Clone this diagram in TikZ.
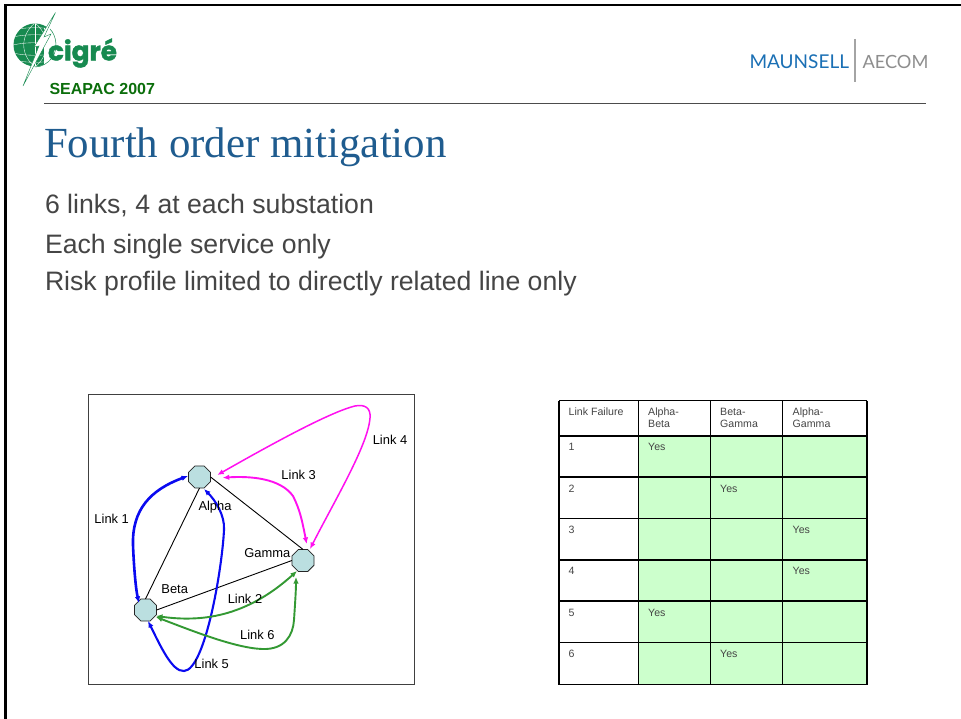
\documentclass[tikz,border=0pt]{standalone}
\usepackage{fontspec}
\setmainfont{Liberation Sans}
\newfontfamily\serifface{Liberation Serif}
\newfontfamily\logoface[BoldFeatures={FakeBold=1.6}]{Poppins}
\newfontfamily\brandface{Lato}
\usetikzlibrary{arrows.meta,shapes.geometric}
\definecolor{titleblue}{HTML}{1F5C8F}
\definecolor{bodygrey}{HTML}{454545}
\definecolor{cellgreen}{HTML}{CCFFCC}
\definecolor{octfill}{HTML}{BBDFE0}
\definecolor{linkblue}{HTML}{0A0AF0}
\definecolor{linkmag}{HTML}{FF10F0}
\definecolor{linkgreen}{HTML}{339933}
\definecolor{logogreen}{HTML}{178A50}
\definecolor{seagreen}{HTML}{0B6E0B}
\definecolor{brandblue}{HTML}{1B70B5}
\definecolor{brandgrey}{HTML}{8E8E8E}
\tikzset{
  x=1pt,y=-1pt,
  txt/.style={inner sep=0pt,outer sep=0pt,anchor=west,align=left},
  bodytxt/.style={txt,text=bodygrey,font=\fontsize{26.65}{28}\selectfont},
  difflabel/.style={inner sep=0pt,font=\fontsize{12.9}{14}\selectfont,text=black},
  cell/.style={inner sep=0pt,anchor=north west,align=left,text=bodygrey,font=\fontsize{10.6}{12.6}\selectfont},
  oct/.style={regular polygon,regular polygon sides=8,draw=black!85,line width=0.8pt,fill=octfill,minimum size=24pt,inner sep=0pt,outer sep=0pt},
  edge/.style={black,line width=0.9pt},
  link/.style={line width=#1,{Latex[length=6.5pt,width=5.5pt]}-{Latex[length=6.5pt,width=5.5pt]}},
  link/.default=1.6pt,
  grid/.style={black,line width=1.2pt}
}
\begin{document}
\begin{tikzpicture}
\useasboundingbox (0,0) rectangle (961,719);
\fill[white] (0,0) rectangle (961,719);
% slide frame
\draw[black,line width=2.6pt] (5.5,719) -- (5.5,5) -- (961,5);
% logo
\fill[logogreen] (35,45) circle (21.5);
\begin{scope}
\clip (35,45) circle (21.5);
\foreach \r in {0,8,15}{\draw[white,line width=0.35pt] (13,45-\r) .. controls (25,42-\r) and (45,42-\r) .. (57,45-\r);}
\foreach \r in {8,15}{\draw[white,line width=0.35pt] (13,45+\r) .. controls (25,48+\r) and (45,48+\r) .. (57,45+\r);}
\draw[white,line width=0.35pt] (35,23) -- (35,67);
\draw[white,line width=0.35pt] (35,23) .. controls (20,35) and (20,55) .. (35,67);
\draw[white,line width=0.35pt] (35,23) .. controls (50,35) and (50,55) .. (35,67);
\end{scope}
\fill[white] (44,28) rectangle (60,70);
\draw[logogreen,line width=0.4pt,fill=white] (55.5,12.5) -- (44,37) -- (51,34) -- (23,86) -- (39,46) -- (34,47) -- cycle;
\draw[logogreen,line width=0.5pt] (50,29) .. controls (57,36) and (58,50) .. (52,58) .. controls (48,63) and (42,67) .. (35,67);
\node[txt,text=logogreen,font=\logoface\bfseries\fontsize{26.3}{28}\selectfont] (cigre) at (48,53) {cigré};
\node[txt,text=seagreen,font=\bfseries\fontsize{16}{18}\selectfont] (seapac) at (49.5,88.5) {SEAPAC 2007};
% brand
\node[txt,text=brandblue,font=\brandface\fontsize{19}{20}\selectfont] (maunsell) at (749.5,61.5) {MAUNSELL};
\node[txt,text=brandgrey,font=\brandface\fontsize{18.2}{20}\selectfont] (aecom) at (862.5,61.5) {AECOM};
\draw[brandgrey!80,line width=1.2pt] (855,39) -- (855,82.5);
\draw[black!70,line width=1.8pt] (44,103.5) -- (926,103.5);
% title
\node[txt,text=titleblue,font=\serifface\fontsize{42.9}{46}\selectfont] (title) at (44,147) {Fourth order mitigation};
\node[bodytxt] (b1) at (45,205.5) {6 links, 4 at each substation};
\node[bodytxt] (b2) at (45,246.5) {Each single service only};
\node[bodytxt] (b3) at (45,284) {Risk profile limited to directly related line only};
% diagram box
\draw[black!75,line width=0.9pt] (88.5,394) rectangle (414.5,684);
\node[oct] (alpha) at (199.5,477) {};
\node[oct] (gamma) at (303,560.5) {};
\node[oct] (beta) at (145.5,610) {};
\draw[edge] (alpha.south) -- (beta.north);
\draw[edge] (alpha.east) -- (gamma.north);
\draw[edge] (beta.east) -- (gamma.west);
\coordinate (l3a) at (222.7,477.7);
\coordinate (l3g) at (306.7,544);
\coordinate (l4a) at (217.3,475);
\coordinate (l4g) at (310,549);
\coordinate (l2g) at (297,571);
\coordinate (l6g) at (296,577);
\coordinate (l5a) at (204,489);
\coordinate (l1a) at (188,476);
\coordinate (l1b) at (139,603);
\coordinate (l5b) at (148,621);
\coordinate (l2b) at (156,616);
\coordinate (l6b) at (156,617);
\draw[link=2.6pt,linkblue] (l1a) .. controls (150,490) and (132,510) .. (133,545) .. controls (134,570) and (136,590) .. (l1b);
\draw[link=2.1pt,linkblue] (l5a) .. controls (215,500) and (225,515) .. (224,530) .. controls (222,570) and (205,670) .. (184,671) .. controls (172,672) and (160,645) .. (l5b);
\draw[link=1.9pt,linkmag] (l3a) .. controls (250,476) and (280,478) .. (293,496) .. controls (300,510) and (302,520) .. (l3g);
\draw[link=1.5pt,linkmag] (l4a) .. controls (270,445) and (330,412) .. (355,406) .. controls (365,404) and (371,408) .. (370,418) .. controls (368,445) and (335,500) .. (l4g);
\draw[link=1.9pt,linkgreen] (l2b) .. controls (200,622) and (245,618) .. (l2g);
\draw[link=1.9pt,linkgreen] (l6b) .. controls (190,630) and (235,648) .. (262,649) .. controls (285,650) and (293,635) .. (294,620) .. controls (295,605) and (296,590) .. (l6g);
\node[difflabel] (lk1) at (111.7,519.3) {Link 1};
\node[difflabel] (lk2) at (245,598.7) {Link 2};
\node[difflabel] (lk3) at (298.7,474.7) {Link 3};
\node[difflabel] (lk4) at (390,440.3) {Link 4};
\node[difflabel] (lk5) at (211.7,664.3) {Link 5};
\node[difflabel] (lk6) at (257.3,635.3) {Link 6};
\node[difflabel] (la) at (215,506.7) {Alpha};
\node[difflabel] (lg) at (267.3,552.7) {Gamma};
\node[difflabel] (lb) at (174.7,589.3) {Beta};
% table
\fill[cellgreen] (638.5,436) rectangle (867,684.5);
\foreach \x in {559,638.5,710.5,782.5,867} \draw[grid] (\x,400.5) -- (\x,684.5);
\foreach \y in {400.5,436,477,518.5,560,601,642.5,684.5} \draw[grid] (559,\y) -- (867,\y);
\node[cell] (h0) at (568.5,407.5) {Link Failure};
\node[cell] (h1) at (648,407.5) {Alpha-\\Beta};
\node[cell] (h2) at (720,407.5) {\vphantom{l}Beta-\\Gamma};
\node[cell] (h3) at (792.5,407.5) {Alpha-\\Gamma};
\node[cell] (r1) at (568.5,443) {\vphantom{l}1};
\node[cell] (r2) at (568.5,484.5) {\vphantom{l}2};
\node[cell] (r3) at (568.5,526) {\vphantom{l}3};
\node[cell] (r4) at (568.5,567) {\vphantom{l}4};
\node[cell] (r5) at (568.5,608.5) {\vphantom{l}5};
\node[cell] (r6) at (568.5,650) {\vphantom{l}6};
\node[cell] (y1) at (648,443) {\vphantom{l}Yes};
\node[cell] (y2) at (720,484.5) {\vphantom{l}Yes};
\node[cell] (y3) at (792.5,526) {\vphantom{l}Yes};
\node[cell] (y4) at (792.5,567) {\vphantom{l}Yes};
\node[cell] (y5) at (648,608.5) {\vphantom{l}Yes};
\node[cell] (y6) at (720,650) {\vphantom{l}Yes};
\end{tikzpicture}
\end{document}
